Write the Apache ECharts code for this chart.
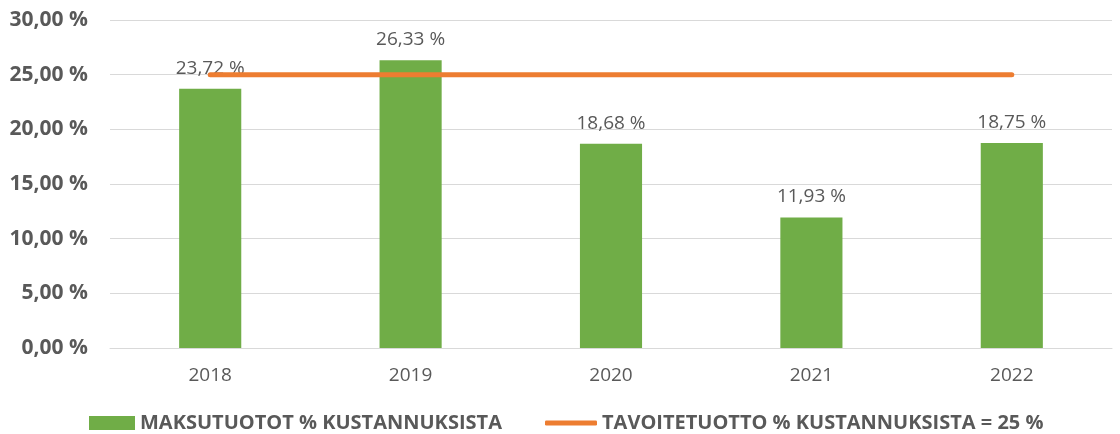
<!DOCTYPE html>
<html>
<head>
<meta charset="utf-8">
<script src="https://cdn.jsdelivr.net/npm/echarts@6/dist/echarts.min.js"></script>
<style>
  html, body { margin: 0; padding: 0; background: #fff; }
  #chart { width: 1120px; height: 434px; }
</style>
</head>
<body>
<div id="chart"></div>
<script>
const years = ['2018', '2019', '2020', '2021', '2022']
const maksutuotot = [23.72, 26.33, 18.68, 11.93, 18.75]
const tavoite = [25, 25, 25, 25, 25]
const barName = 'MAKSUTUOTOT % KUSTANNUKSISTA'
const lineName = 'TAVOITETUOTTO % KUSTANNUKSISTA = 25 %'

const fmt = v => v.toFixed(2).replace('.', ',') + ' %'

const myChart = echarts.init(document.getElementById('chart'))
const legendText = { color: '#595959', fontSize: 20, fontWeight: 'bold', fontFamily: 'Open Sans' }
const option = {
  animation: false,
  textStyle: { fontFamily: 'Open Sans' },
  grid: { left: 110, right: 8, top: 20, bottom: 86 },
  legend: [
    {
      left: 89, top: 413, padding: 0,
      itemWidth: 46, itemHeight: 14,
      icon: 'rect',
      data: [barName],
      textStyle: legendText
    },
    {
      left: 545, top: 413, padding: 0,
      itemWidth: 52, itemHeight: 5,
      icon: 'roundRect',
      data: [lineName],
      textStyle: legendText
    }
  ],
  xAxis: {
    type: 'category',
    data: years,
    axisLine: { show: true, lineStyle: { color: '#d9d9d9', width: 1 } },
    axisTick: { show: false },
    axisLabel: { color: '#595959', fontSize: 19, margin: 18 }
  },
  yAxis: {
    type: 'value',
    min: 0, max: 30, interval: 5,
    axisLine: { show: false },
    axisTick: { show: false },
    splitLine: { lineStyle: { color: '#d9d9d9', width: 1 } },
    axisLabel: {
      color: '#595959', fontSize: 21, fontWeight: 'bold', margin: 22,
      formatter: v => fmt(v)
    }
  },
  series: [
    {
      name: barName,
      type: 'bar',
      data: maksutuotot,
      barWidth: '31%',
      itemStyle: { color: '#70ad47' },
      label: {
        show: true, position: 'top', distance: 11,
        color: '#595959', fontSize: 19,
        formatter: p => fmt(p.value)
      }
    },
    {
      name: lineName,
      type: 'line',
      data: tavoite,
      symbol: 'none',
      lineStyle: { color: '#ed7d31', width: 5, cap: 'round' },
      itemStyle: { color: '#ed7d31' },
      z: 3
    }
  ]
}
myChart.setOption(option)
</script>
</body>
</html>
